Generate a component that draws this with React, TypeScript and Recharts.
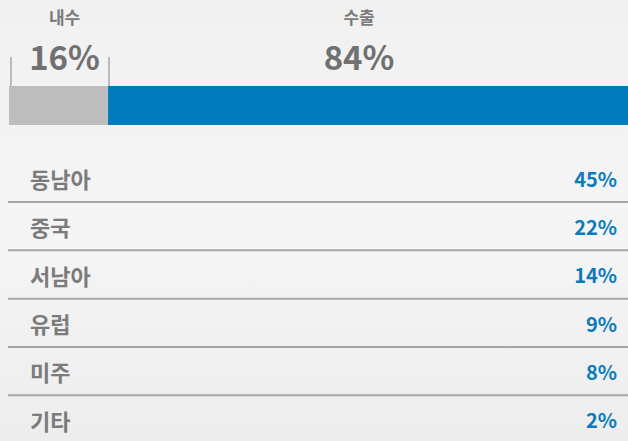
import React from "react";
import { BarChart, Bar, XAxis, YAxis } from "recharts";

// 내수 / 수출 split
const segmentNames = ["내수", "수출"];
const segmentShares = [16, 84];
const segmentColors = ["#bdbdbd", "#007bbb"];
const labelShift = [6, -9];

// export destinations
const regionNames = ["동남아", "중국", "서남아", "유럽", "미주", "기타"];
const regionShares = [45, 22, 14, 9, 8, 2];

const splitRow = segmentNames.reduce(
  (row, name, i) => ({ ...row, [name]: segmentShares[i] }),
  { group: "매출" } as Record<string, string | number>
);
const regionRows = regionNames.map((name, i) => ({ name, value: regionShares[i] }));

const FONT = '"Noto Sans CJK KR", "Noto Sans", sans-serif';

function SegmentShape(props: any) {
  const { x, y, width, height, fill, payload, seg } = props;
  const name = segmentNames[seg];
  const cx = x + width / 2 + labelShift[seg];
  return (
    <g>
      <rect x={x} y={y} width={width} height={height} fill={fill} />
      {seg === 0 && (
        <g stroke="#a9a9a9" strokeWidth={1.5}>
          <line x1={x + 2} x2={x + 2} y1={y - 29} y2={y} />
          <line x1={x + width + 1} x2={x + width + 1} y1={y - 29} y2={y} />
        </g>
      )}
      <text x={cx} y={y - 62} textAnchor="middle" fontSize={17} fontWeight={700} fill="#7a7a7a" fontFamily={FONT}>
        {name}
      </text>
      <text x={cx} y={y - 16} textAnchor="middle" fontSize={33} fontWeight={700} fill="#707070" fontFamily={FONT}>
        {payload[name]}%
      </text>
    </g>
  );
}

// one table row per band: name on the left, share on the right, rule underneath
const RegionRow = (p: any) => {
  const row = regionRows[p.index];
  const cy = p.y + p.height / 2;
  return (
    <g>
      {p.index < regionRows.length - 1 && (
        <line x1={p.x} x2={p.x + p.width} y1={p.y + p.height} y2={p.y + p.height} stroke="#a6a6a6" strokeWidth={2} />
      )}
      <text x={p.x + 22} y={cy} dominantBaseline="central" fontSize={22} fontWeight={700} fill="#7b7b7b" fontFamily={FONT}>
        {row.name}
      </text>
      <text
        x={p.x + p.width - 11}
        y={cy}
        textAnchor="end"
        dominantBaseline="central"
        fontSize={20}
        fontWeight={700}
        fill="#0a7bbd"
        fontFamily={FONT}
      >
        {row.value}%
      </text>
    </g>
  );
};

export default function App() {
  return (
    <div
      style={{
        position: "fixed",
        left: 0,
        top: 0,
        width: 628,
        height: 441,
        overflow: "hidden",
        background: "linear-gradient(180deg, #f1f1f2 0%, #f5f5f6 55%, #ededed 100%)",
      }}
    >
      <div style={{ position: "absolute", left: 0, top: 0 }}>
        <BarChart
          width={628}
          height={126}
          data={[splitRow]}
          layout="vertical"
          margin={{ top: 86, right: 0, bottom: 1, left: 9 }}
          barCategoryGap={0}
        >
          <XAxis type="number" domain={[0, 100]} hide />
          <YAxis type="category" dataKey="group" hide />
          {segmentNames.map((name, i) => (
            <Bar
              key={name}
              dataKey={name}
              stackId="split"
              fill={segmentColors[i]}
              isAnimationActive={false}
              shape={(p: any) => <SegmentShape {...p} seg={i} />}
            />
          ))}
        </BarChart>
      </div>
      <div style={{ position: "absolute", left: 0, top: 154 }}>
        <BarChart
          width={628}
          height={290}
          data={regionRows}
          layout="vertical"
          margin={{ top: 0, right: 0, bottom: 0, left: 8 }}
          barCategoryGap={0}
        >
          <XAxis type="number" domain={[0, 100]} hide />
          <YAxis type="category" dataKey="name" hide />
          <Bar dataKey="value" fill="transparent" background={RegionRow} isAnimationActive={false} />
        </BarChart>
      </div>
    </div>
  );
}
